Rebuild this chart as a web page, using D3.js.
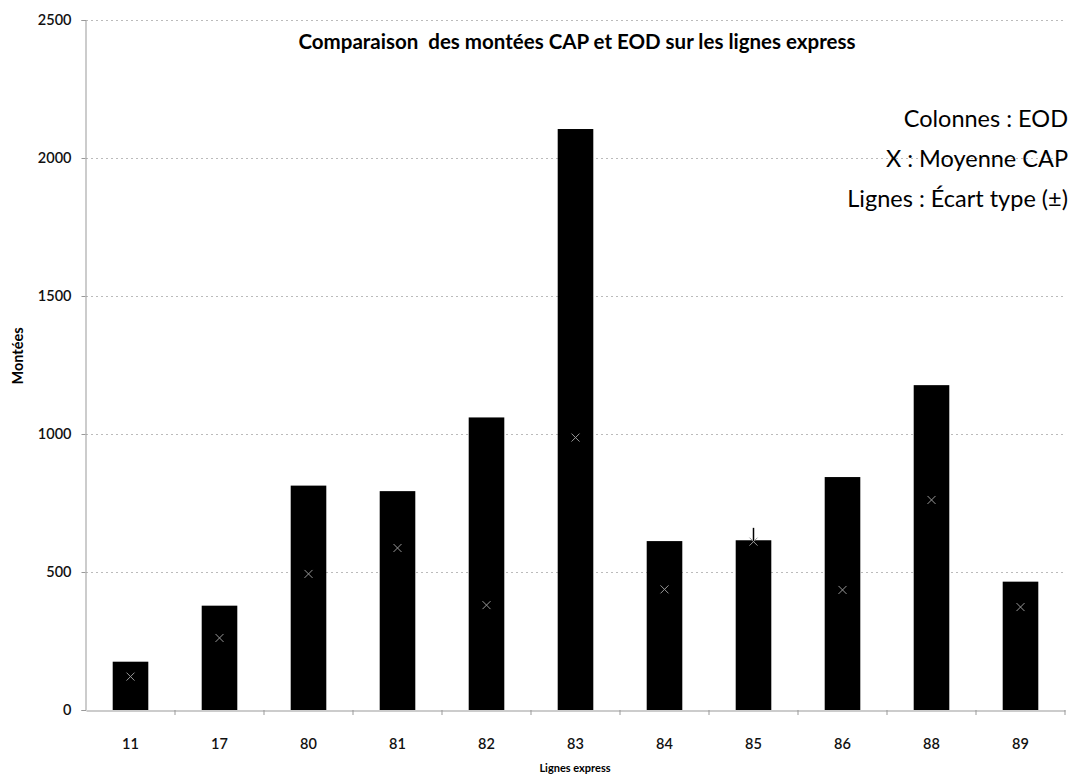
<!DOCTYPE html>
<html>
<head>
<meta charset="utf-8">
<script src="https://cdn.jsdelivr.net/npm/d3@7"></script>
<style>
  body { margin: 0; background: #fff; }
  svg { display: block; font-family: Lato, "Open Sans", sans-serif; }
</style>
</head>
<body>
<script>
// lignes express et valeurs
var lignes = ["11", "17", "80", "81", "82", "83", "84", "85", "86", "88", "89"];
var montéesEOD = [175, 378, 813, 793, 1060, 2105, 612, 615, 844, 1177, 465];
var moyenneCAP = [121, 261, 493, 587, 380, 987, 437, 610, 435, 761, 373];
var ecartTypeCAP = [45, 90, 190, 170, 300, 420, 130, 50, 250, 290, 80];
var yTicks = [0, 500, 1000, 1500, 2000, 2500];
var legende = ["Colonnes : EOD", "X : Moyenne CAP", "Lignes : Écart type (±)"];

var w = 1076;
var h = 776;
var plotLeft = 86, plotRight = 1065, plotTop = 20, plotBottom = 710;

var svg = d3.select("body")
  .append("svg")
  .attr("width", w)
  .attr("height", h);

var x = d3.scaleBand()
  .domain(lignes)
  .range([plotLeft, plotRight])
  .paddingInner(0.6)
  .paddingOuter(0.3);

var y = d3.scaleLinear()
  .domain([0, 2500])
  .range([plotBottom, plotTop]);

// grille pointillée
svg.append("g")
  .selectAll("line")
  .data(yTicks.slice(1))
  .enter()
  .append("line")
  .attr("x1", plotLeft)
  .attr("x2", plotRight)
  .attr("y1", function(d) { return Math.round(y(d)) + 0.5; })
  .attr("y2", function(d) { return Math.round(y(d)) + 0.5; })
  .attr("stroke", "#bbb")
  .attr("stroke-width", 1)
  .attr("stroke-dasharray", "2,3");

// axe Y
var yAxis = svg.append("g")
  .attr("transform", "translate(" + (plotLeft - 0.5) + ",0)")
  .call(d3.axisLeft(y).tickValues(yTicks).tickSize(4).tickPadding(10).tickFormat(d3.format("d")));
yAxis.select(".domain").attr("stroke", "#999");
yAxis.selectAll(".tick line").attr("stroke", "#999");
yAxis.selectAll("text")
  .attr("font-family", "Lato, sans-serif")
  .attr("font-size", "14.5px")
  .attr("font-weight", "600")
  .attr("fill", "#111");

// axe X
var xAxis = svg.append("g")
  .attr("transform", "translate(0," + (plotBottom + 0.5) + ")")
  .call(d3.axisBottom(x).tickSize(0).tickPadding(28));
xAxis.select(".domain").attr("stroke", "#999");
xAxis.selectAll("text")
  .attr("font-family", "Lato, sans-serif")
  .attr("font-size", "14.5px")
  .attr("font-weight", "600")
  .attr("fill", "#111");

// petites graduations entre les catégories
svg.append("g")
  .selectAll("line")
  .data(lignes)
  .enter()
  .append("line")
  .attr("x1", function(d) { return x(d) + x.bandwidth() / 2 + x.step() / 2; })
  .attr("x2", function(d) { return x(d) + x.bandwidth() / 2 + x.step() / 2; })
  .attr("y1", plotBottom)
  .attr("y2", plotBottom + 5)
  .attr("stroke", "#999");

// colonnes EOD
svg.append("g")
  .selectAll("rect")
  .data(lignes)
  .enter()
  .append("rect")
  .attr("x", function(d) { return x(d); })
  .attr("y", function(d, i) { return y(montéesEOD[i]); })
  .attr("width", x.bandwidth())
  .attr("height", function(d, i) { return y(0) - y(montéesEOD[i]); })
  .attr("fill", "#000");

// écart type (lignes)
svg.append("g")
  .selectAll("line")
  .data(lignes)
  .enter()
  .append("line")
  .attr("x1", function(d) { return x(d) + x.bandwidth() / 2; })
  .attr("x2", function(d) { return x(d) + x.bandwidth() / 2; })
  .attr("y1", function(d, i) { return y(moyenneCAP[i] - ecartTypeCAP[i]); })
  .attr("y2", function(d, i) { return y(moyenneCAP[i] + ecartTypeCAP[i]); })
  .attr("stroke", "#000")
  .attr("stroke-width", 1.5);

// moyenne CAP (X)
var s = 4;
var marks = svg.append("g")
  .selectAll("g")
  .data(lignes)
  .enter()
  .append("g")
  .attr("transform", function(d, i) {
    return "translate(" + (x(d) + x.bandwidth() / 2) + "," + y(moyenneCAP[i]) + ")";
  });
marks.append("line")
  .attr("x1", -s).attr("y1", -s).attr("x2", s).attr("y2", s)
  .attr("stroke", "#999").attr("stroke-width", 1);
marks.append("line")
  .attr("x1", -s).attr("y1", s).attr("x2", s).attr("y2", -s)
  .attr("stroke", "#999").attr("stroke-width", 1);

// titre
svg.append("text")
  .attr("x", 577)
  .attr("y", 49)
  .attr("text-anchor", "middle")
  .attr("font-family", "Lato, sans-serif")
  .attr("font-size", "20.5px")
  .attr("font-weight", "bold")
  .attr("fill", "#000")
  .attr("xml:space", "preserve")
  .text("Comparaison  des montées CAP et EOD sur les lignes express");

// légende texte
svg.append("g")
  .selectAll("text")
  .data(legende)
  .enter()
  .append("text")
  .attr("x", 1068)
  .attr("y", function(d, i) { return 127 + i * 40; })
  .attr("text-anchor", "end")
  .attr("font-family", "Lato, sans-serif")
  .attr("font-size", "23.5px")
  .attr("fill", "#000")
  .text(function(d) { return d; });

// titres des axes
svg.append("text")
  .attr("transform", "translate(23,356) rotate(-90)")
  .attr("text-anchor", "middle")
  .attr("font-family", "Lato, sans-serif")
  .attr("font-size", "14.5px")
  .attr("font-weight", "bold")
  .text("Montées");

svg.append("text")
  .attr("x", 575)
  .attr("y", 772)
  .attr("text-anchor", "middle")
  .attr("font-family", "Lato, sans-serif")
  .attr("font-size", "11px")
  .attr("font-weight", "bold")
  .text("Lignes express");
</script>
</body>
</html>
